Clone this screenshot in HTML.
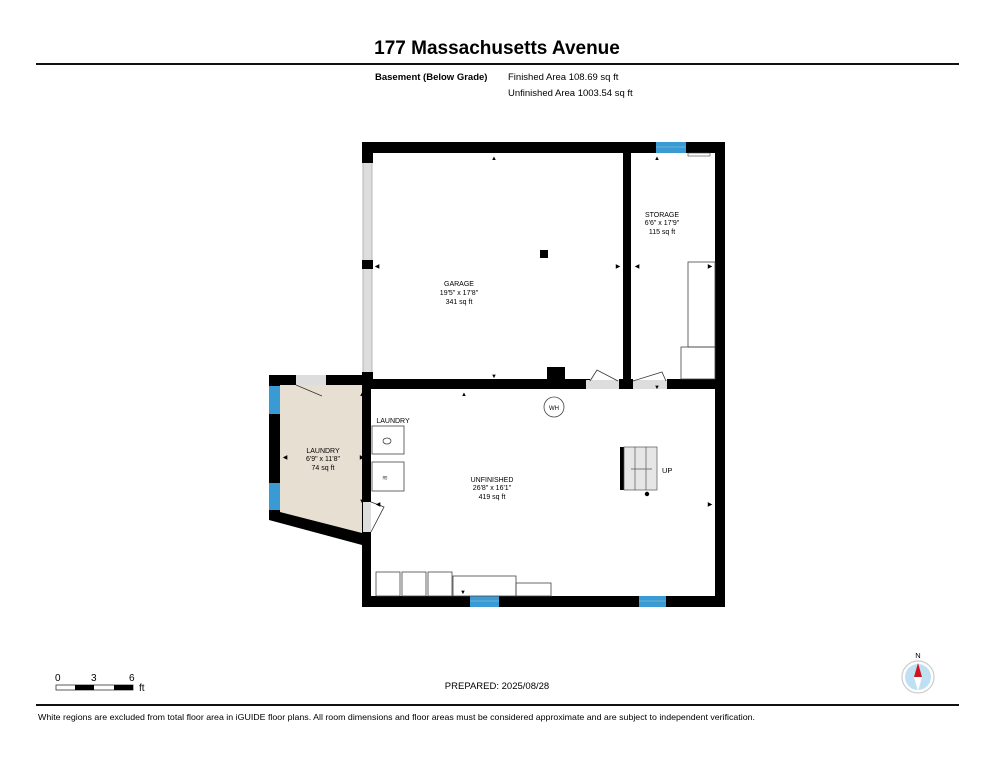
<!DOCTYPE html>
<html><head><meta charset="utf-8"><style>
html,body{margin:0;padding:0;background:#fff;}
svg{display:block;font-family:"Liberation Sans",Arial,sans-serif;}
</style></head><body>
<svg width="994" height="768" viewBox="0 0 994 768" xmlns="http://www.w3.org/2000/svg">
<rect width="994" height="768" fill="#fff"/>
<text x="497" y="54" text-anchor="middle" font-size="19" font-weight="bold">177 Massachusetts Avenue</text>
<rect x="36" y="63" width="923" height="2" fill="#111"/>
<text x="375" y="80" font-size="9.5" font-weight="bold">Basement (Below Grade)</text>
<text x="508" y="80" font-size="9.5">Finished Area 108.69 sq ft</text>
<text x="508" y="96" font-size="9.5">Unfinished Area 1003.54 sq ft</text>

<polygon points="280,385 362,385 362,533 280,512" fill="#e8dfd3"/>
<rect x="363" y="160" width="9" height="215" fill="#ddd" stroke="#aaa" stroke-width="0.8"/>
<g fill="#000">
<rect x="362" y="142" width="363" height="11"/>
<rect x="362" y="142" width="11" height="21"/>
<rect x="362" y="260" width="11" height="9"/>
<rect x="362" y="372" width="11" height="17"/>
<rect x="715" y="142" width="10" height="465"/>
<rect x="362" y="596" width="363" height="11"/>
<rect x="623" y="153" width="8" height="236"/>
<rect x="362" y="379" width="228" height="10"/>
<rect x="547" y="367" width="18" height="14"/>
<rect x="619" y="379" width="14" height="10"/>
<rect x="667" y="379" width="58" height="10"/>
<rect x="362" y="389" width="9" height="218"/>
<rect x="540" y="250" width="8" height="8"/>
<rect x="269" y="375" width="93" height="10"/>
<rect x="269" y="375" width="11" height="145"/>
<polygon points="269,508 280,512 362,533 362,545 269,520"/>
</g>
<rect x="296" y="375" width="30" height="10" fill="#ddd"/>
<line x1="296" y1="385" x2="322" y2="396" stroke="#333" stroke-width="0.8"/>
<rect x="586" y="380" width="33" height="9" fill="#ddd"/>
<path d="M590,381 L597,370 L618,381" fill="none" stroke="#333" stroke-width="0.8"/>
<rect x="633" y="380" width="34" height="9" fill="#ddd"/>
<path d="M633,381 L662,372 L666,381" fill="none" stroke="#333" stroke-width="0.8"/>
<rect x="363" y="502" width="8" height="30" fill="#ddd"/>
<path d="M371,502 L384,507 L371,532" fill="none" stroke="#333" stroke-width="0.8"/>
<g fill="#3a9ad3">
<rect x="656" y="142" width="30" height="11"/>
<rect x="269" y="386" width="11" height="28"/>
<rect x="269" y="483" width="11" height="27"/>
<rect x="470" y="596" width="29" height="11"/>
<rect x="639" y="596" width="27" height="11"/>
</g>
<g stroke="#9cd" stroke-width="0.6"><line x1="656" y1="147" x2="686" y2="147"/><line x1="470" y1="601" x2="499" y2="601"/><line x1="639" y1="601" x2="666" y2="601"/></g>
<rect x="688" y="153" width="22" height="3" fill="none" stroke="#444" stroke-width="0.6"/>
<g fill="none" stroke="#444" stroke-width="0.8">
<rect x="688" y="262" width="27" height="85"/>
<rect x="681" y="347" width="34" height="32"/>
<rect x="372" y="426" width="32" height="28"/>
<rect x="372" y="462" width="32" height="29"/>
<ellipse cx="387" cy="441" rx="4" ry="3"/>
<rect x="376" y="572" width="24" height="24"/>
<rect x="402" y="572" width="24" height="24"/>
<rect x="428" y="572" width="24" height="24"/>
<rect x="453" y="576" width="63" height="20"/>
<rect x="516" y="583" width="35" height="13"/>
<circle cx="554" cy="407" r="10"/>
</g>
<text x="382" y="480" font-size="7" fill="#555">≋</text>
<rect x="620" y="447" width="4" height="43" fill="#000"/>
<rect x="624" y="447" width="33" height="43" fill="#e6e6e6" stroke="#555" stroke-width="0.7"/>
<g stroke="#555" stroke-width="0.7"><line x1="635" y1="447" x2="635" y2="490"/><line x1="646" y1="447" x2="646" y2="490"/><line x1="631" y1="469" x2="652" y2="469"/></g>
<circle cx="647" cy="494" r="2.2" fill="#000"/>
<text x="662" y="473" font-size="7.5">UP</text>
<text x="554" y="410" font-size="6" text-anchor="middle">WH</text>
<g font-size="7" text-anchor="middle">
<text x="459" y="286">GARAGE</text><text x="459" y="295">19'5" x 17'8"</text><text x="459" y="304">341 sq ft</text>
<text x="662" y="217">STORAGE</text><text x="662" y="225">6'6" x 17'9"</text><text x="662" y="234">115 sq ft</text>
<text x="323" y="453">LAUNDRY</text><text x="323" y="461">6'9" x 11'8"</text><text x="323" y="470">74 sq ft</text>
<text x="492" y="482">UNFINISHED</text><text x="492" y="490">26'8" x 16'1"</text><text x="492" y="499">419 sq ft</text>
<text x="393" y="423">LAUNDRY</text>
</g>
<g font-size="6" text-anchor="middle">
<text x="494" y="160">▲</text><text x="494" y="378">▼</text><text x="657" y="160">▲</text>
<text x="464" y="396">▲</text><text x="362" y="396">▲</text><text x="463" y="594">▼</text>
<text x="362" y="503">▼</text><text x="657" y="389">▼</text>
<text x="377" y="268">◀</text><text x="618" y="268">▶</text><text x="637" y="268">◀</text><text x="710" y="268">▶</text>
<text x="285" y="459">◀</text><text x="362" y="459">▶</text><text x="710" y="506">▶</text><text x="378" y="506">◀</text>
</g>
<g font-size="10"><text x="55" y="681">0</text><text x="91" y="681">3</text><text x="129" y="681">6</text><text x="139" y="691">ft</text></g>
<rect x="56" y="685" width="77" height="5" fill="#fff" stroke="#333" stroke-width="0.8"/>
<rect x="75" y="685" width="19" height="5" fill="#000"/><rect x="114" y="685" width="19" height="5" fill="#000"/>
<text x="497" y="689" font-size="9.5" text-anchor="middle">PREPARED: 2025/08/28</text>
<circle cx="918" cy="677" r="16" fill="#fff" stroke="#ccc" stroke-width="1.2"/>
<circle cx="918" cy="677" r="13" fill="#bfe0f3"/>
<polygon points="918,663 914,677 922,677" fill="#d0141c"/>
<polygon points="918,691 914,677 922,677" fill="#fff"/>
<text x="918" y="658" font-size="7.5" text-anchor="middle">N</text>
<rect x="36" y="704" width="923" height="2" fill="#111"/>
<text x="38" y="720" font-size="8.5" textLength="717" lengthAdjust="spacingAndGlyphs">White regions are excluded from total floor area in iGUIDE floor plans. All room dimensions and floor areas must be considered approximate and are subject to independent verification.</text>
</svg>
</body></html>
